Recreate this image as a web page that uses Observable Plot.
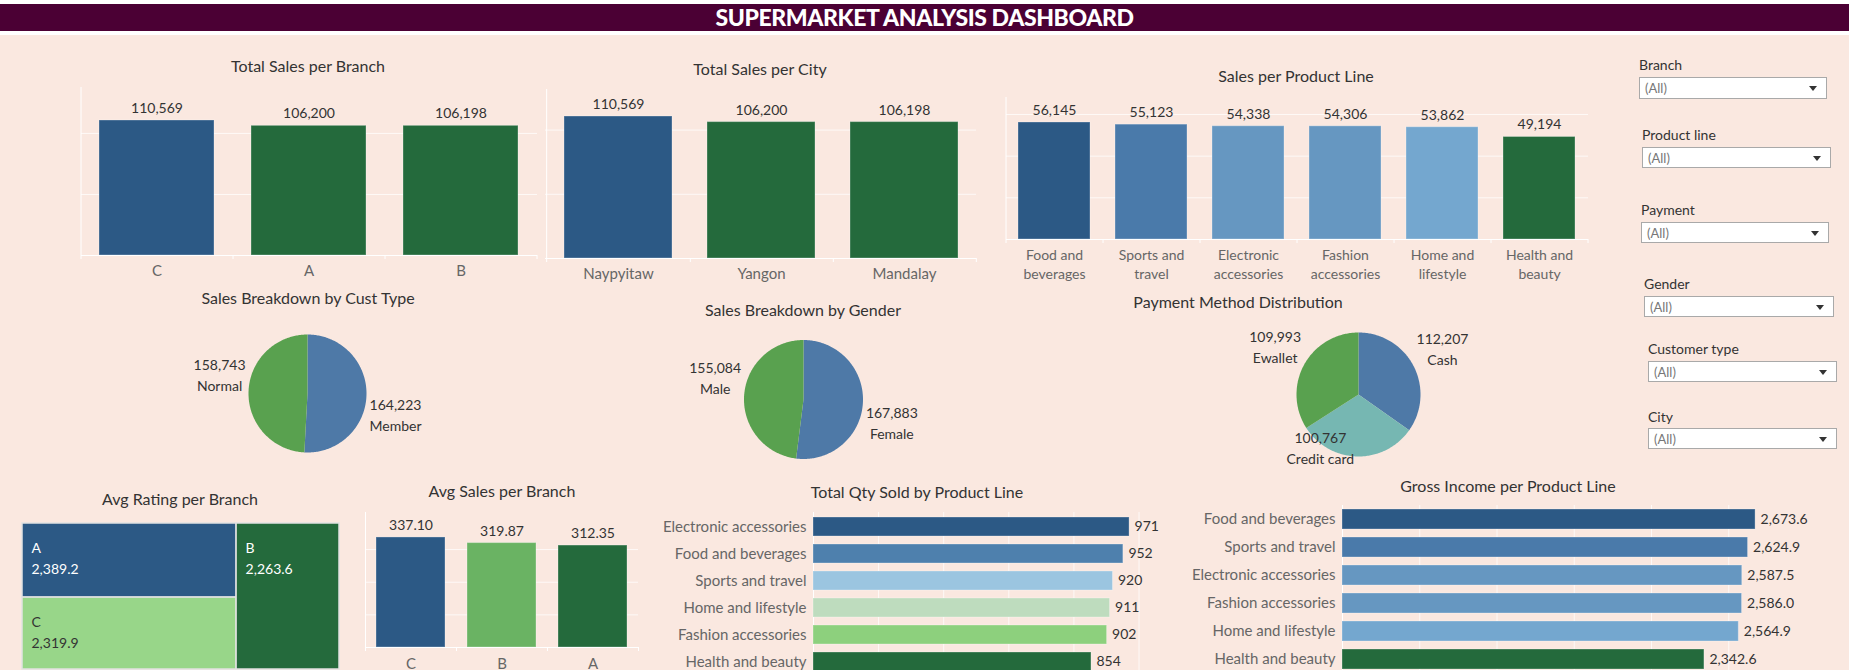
<!DOCTYPE html>
<html>
<head>
<meta charset="utf-8">
<script src="https://cdn.jsdelivr.net/npm/d3@7"></script>
<script src="https://cdn.jsdelivr.net/npm/@observablehq/plot@0.6"></script>
<style>
html, body { margin: 0; padding: 0; width: 1849px; height: 670px; overflow: hidden; background: #ffffff; font-family: Lato, "Open Sans", sans-serif; }
#bg { position: absolute; left: 0; top: 35px; width: 1849px; height: 635px; background: #fae8e0; }
#hdr { position: absolute; left: 0; top: 4px; width: 1849px; height: 27px; background: #4b0034; color: #ffffff; font-weight: 900; font-size: 23px; line-height: 27px; text-align: center; letter-spacing: -0.4px; }
.ttl { position: absolute; transform: translate(-50%, -50%); white-space: nowrap; color: #333333; line-height: 1; }
.box { position: absolute; }
.flabel { position: absolute; transform: translateY(-50%); font-size: 14px; color: #333333; line-height: 1; white-space: nowrap; }
.fbox { position: absolute; background: #ffffff; border: 1px solid #a9a9a9; box-sizing: border-box; font-size: 13px; color: #777777; }
.fbox span { position: absolute; left: 5px; top: 50%; transform: translateY(-50%); line-height: 1; }
.fbox i { position: absolute; right: 9px; top: 50%; margin-top: -2px; width: 0; height: 0; border-left: 4px solid transparent; border-right: 4px solid transparent; border-top: 5px solid #333333; }
</style>
</head>
<body>
<div id="bg"></div>
<div id="hdr">SUPERMARKET ANALYSIS DASHBOARD</div>
<script>
// ---------------- data ----------------
const branches = ["C", "A", "B"];
const branchSales = [110569, 106200, 106198];
const branchColors = ["#2c5985", "#246a3c", "#246a3c"];
const branchGrid = [50000, 100000];

const cities = ["Naypyitaw", "Yangon", "Mandalay"];
const citySales = [110569, 106200, 106198];
const cityColors = ["#2c5985", "#246a3c", "#246a3c"];
const cityGrid = [50000, 100000];

const productLines = ["Food and beverages", "Sports and travel", "Electronic accessories", "Fashion accessories", "Home and lifestyle", "Health and beauty"];
const productSales = [56145, 55123, 54338, 54306, 53862, 49194];
const productColors = ["#2c5985", "#4a7aaa", "#6697c1", "#6697c1", "#74a7cf", "#246a3c"];
const productGrid = [20000, 40000, 60000];

const custTypes = ["Member", "Normal"];
const custSales = [164223, 158743];
const genders = ["Female", "Male"];
const genderSales = [167883, 155084];
const twoColors = ["#4e79a7", "#59a14f"];
const payments = ["Cash", "Credit card", "Ewallet"];
const paymentSales = [112207, 100767, 109993];
const paymentColors = ["#4e79a7", "#76b7b2", "#59a14f"];

const ratingBranches = ["A", "C", "B"];
const ratingValues = [2389.2, 2319.9, 2263.6];
const ratingColors = ["#2c5985", "#98d689", "#246a3c"];
const ratingTextColors = ["#ffffff", "#333333", "#ffffff"];
const ratingGroups = [[0, 1], [2]];

const avgBranches = ["C", "B", "A"];
const avgSales = [337.10, 319.87, 312.35];
const avgColors = ["#2c5985", "#6ab363", "#246a3c"];
const avgGrid = [100, 200, 300];

const qtyLines = ["Electronic accessories", "Food and beverages", "Sports and travel", "Home and lifestyle", "Fashion accessories", "Health and beauty"];
const qtyValues = [971, 952, 920, 911, 902, 854];
const qtyColors = ["#2c5985", "#4e80ad", "#9bc5e0", "#bedcbe", "#8dd07d", "#246a3c"];
const qtyGrid = [200, 400, 600, 800, 1000];

const incomeLines = ["Food and beverages", "Sports and travel", "Electronic accessories", "Fashion accessories", "Home and lifestyle", "Health and beauty"];
const incomeValues = [2673.6, 2624.9, 2587.5, 2586.0, 2564.9, 2342.6];
const incomeColors = ["#2c5985", "#4a7aaa", "#6697c1", "#6697c1", "#74a7cf", "#246a3c"];
const incomeGrid = [500, 1000, 1500, 2000, 2500];

const filterNames = ["Branch", "Product line", "Payment", "Gender", "Customer type", "City"];
const filterValue = "(All)";

// ---------------- helpers ----------------
const FONT = "Lato, 'Open Sans', sans-serif";
const fmtInt = d3.format(",");
const fmt1 = d3.format(",.1f");
const fmt2 = d3.format(".2f");
const splitLast = s => s.replace(/ (\S+)$/, "\n$1");

function addSvg(svg, left, top) {
  const d = document.createElement("div");
  d.className = "box";
  d.style.left = left + "px";
  d.style.top = top + "px";
  d.appendChild(svg);
  document.body.appendChild(d);
}
function addTitle(text, cx, cy, size) {
  const d = document.createElement("div");
  d.className = "ttl";
  d.textContent = text;
  d.style.left = cx + "px";
  d.style.top = cy + "px";
  d.style.fontSize = (size || 16) + "px";
  document.body.appendChild(d);
}
function baseStyle(fs) {
  return {background: "transparent", overflow: "visible", fontFamily: FONT, fontSize: fs + "px", color: "#666666"};
}

function vbar(o) {
  const data = o.cats.map((c, i) => ({c, v: o.vals[i]}));
  const n = o.cats.length;
  const innerH = o.height - o.mT - o.mB;
  const step = (o.width - o.mL - o.mR) / n;
  const svg = Plot.plot({
    width: o.width, height: o.height,
    marginLeft: o.mL, marginRight: o.mR, marginTop: o.mT, marginBottom: o.mB,
    style: baseStyle(o.axisSize),
    x: {domain: o.cats, paddingInner: o.pad, paddingOuter: o.pad / 2},
    y: {domain: [0, o.max], axis: null},
    color: {domain: o.cats, range: o.colors},
    marks: [
      Plot.ruleY(o.grid, {stroke: "#ffffff", strokeOpacity: 0.75}),
      Plot.ruleY([0], {stroke: "#ffffff"}),
      Plot.ruleX([o.cats[0]], {dx: -step / 2, stroke: "#ffffff", insetBottom: -4}),
      Plot.ruleX(o.cats, {dx: step / 2, stroke: "#ffffff", insetTop: innerH, insetBottom: -4}),
      Plot.barY(data, {x: "c", y: "v", fill: "c", stroke: "#ffffff", strokeOpacity: 0.3}),
      Plot.text(data, {x: "c", y: "v", text: d => o.fmt(d.v), dy: -12, fontSize: o.labelSize, fill: "#333333"}),
      Plot.axisX({tickSize: 0, tickPadding: o.tickPad, tickFormat: o.wrap ? splitLast : (d => d), lineHeight: o.lh || 1, fontSize: o.axisSize, fill: "#666666", label: null})
    ]
  });
  addSvg(svg, o.left, o.top);
}

function hbar(o) {
  const data = o.cats.map((c, i) => ({c, v: o.vals[i]}));
  const svg = Plot.plot({
    width: o.width, height: o.height,
    marginLeft: o.mL, marginRight: o.mR, marginTop: o.mT, marginBottom: o.mB,
    style: baseStyle(o.axisSize),
    y: {domain: o.cats, paddingInner: o.pad, paddingOuter: o.pad / 2},
    x: {domain: [0, o.max], axis: null},
    color: {domain: o.cats, range: o.colors},
    marks: [
      Plot.ruleX(o.grid, {stroke: "#ffffff", strokeOpacity: 0.75}),
      Plot.ruleX([0], {stroke: "#ffffff"}),
      Plot.barX(data, {y: "c", x: "v", fill: "c", stroke: "#ffffff", strokeOpacity: 0.3}),
      Plot.text(data, {y: "c", x: "v", text: d => o.fmt(d.v), dx: 5, textAnchor: "start", fontSize: o.labelSize, fill: "#333333"}),
      Plot.axisY({tickSize: 0, tickPadding: o.tickPad, fontSize: o.axisSize, fill: "#666666", label: null})
    ]
  });
  addSvg(svg, o.left, o.top);
}

const measureCtx = document.createElement("canvas").getContext("2d");
function pie(o) {
  const data = o.cats.map((c, i) => ({c, v: o.vals[i]}));
  const arcs = d3.pie().sort(null).value(d => d.v)(data);
  const pts = [];
  for (const a of arcs) {
    const n = Math.max(2, Math.ceil((a.endAngle - a.startAngle) / (Math.PI / 180)));
    pts.push({c: a.data.c, x: 0, y: 0});
    for (let k = 0; k <= n; k++) {
      const t = a.startAngle + (a.endAngle - a.startAngle) * k / n;
      pts.push({c: a.data.c, x: Math.sin(t), y: Math.cos(t)});
    }
  }
  const fs = o.labelSize, lh = 1.5, gap = 3;
  measureCtx.font = fs + "px " + FONT;
  const half = (lh * fs + 0.72 * fs) / 2;
  const labels = arcs.map(a => {
    const m = (a.startAngle + a.endAngle) / 2;
    const lines = [fmtInt(a.data.v), a.data.c];
    const w = Math.max(...lines.map(s => measureCtx.measureText(s).width));
    const px = o.r * Math.sin(m), py = -o.r * Math.cos(m);
    const lx = px + (Math.sin(m) >= 0 ? 1 : -1) * (gap + w / 2);
    let ly = py + (Math.cos(m) > 0 ? -1 : 1) * (gap + half);
    if (o.maxY != null) ly = Math.min(ly, o.maxY - o.cy - half);
    return {text: lines.join("\n"), x: lx / o.r, y: -ly / o.r};
  });
  const W = o.W, H = o.H;
  const svg = Plot.plot({
    width: W, height: H, margin: 0,
    style: baseStyle(fs),
    x: {domain: [-W / 2 / o.r, W / 2 / o.r], axis: null},
    y: {domain: [-H / 2 / o.r, H / 2 / o.r], axis: null},
    color: {domain: o.cats, range: o.colors},
    marks: [
      Plot.line(pts, {x: "x", y: "y", z: "c", fill: "c", stroke: "none"}),
      Plot.text(labels, {x: "x", y: "y", text: "text", lineHeight: lh, fontSize: fs, fill: "#333333"})
    ]
  });
  addSvg(svg, o.cx - W / 2, o.cy - H / 2);
}

function treemap(o) {
  const items = o.cats.map((c, i) => ({c, v: o.vals[i], tc: o.textColors[i]}));
  const root = d3.hierarchy({children: o.groups.map(g => g.length > 1 ? {children: g.map(i => items[i])} : items[g[0]])})
    .sum(d => d.v || 0);
  d3.treemap().tile(d3.treemapSliceDice).size([1, 1]).round(false)(root);
  const leaves = root.leaves();
  const tcs = Array.from(new Set(o.textColors));
  const svg = Plot.plot({
    width: o.width, height: o.height, margin: 0,
    style: baseStyle(14),
    x: {domain: [0, 1], range: [0, o.width], axis: null},
    y: {domain: [0, 1], range: [0, o.height], axis: null},
    color: {domain: o.cats, range: o.colors},
    marks: [
      Plot.rect(leaves, {x1: d => d.x0, x2: d => d.x1, y1: d => d.y0, y2: d => d.y1, fill: d => d.data.c, stroke: "#e2e2e2", strokeWidth: 1.5}),
      ...tcs.map(col => Plot.text(leaves.filter(d => d.data.tc === col), {
        x: d => d.x0, y: d => d.y0, text: d => d.data.c + "\n" + o.fmt(d.data.v),
        dx: 9, dy: 15, textAnchor: "start", lineAnchor: "top", lineHeight: 1.5, fontSize: 14, fill: col
      }))
    ]
  });
  addSvg(svg, o.left, o.top);
}

// ---------------- charts ----------------
addTitle("Total Sales per Branch", 308, 66, 16);
vbar({cats: branches, vals: branchSales, colors: branchColors, grid: branchGrid, fmt: fmtInt,
  left: 60, top: 80, width: 500, height: 215, mL: 21, mR: 23, mT: 7, mB: 40, max: 137600,
  pad: 0.243, tickPad: 10, axisSize: 15, labelSize: 14});

addTitle("Total Sales per City", 760, 69, 16);
vbar({cats: cities, vals: citySales, colors: cityColors, grid: cityGrid, fmt: fmtInt,
  left: 530, top: 80, width: 460, height: 220, mL: 15, mR: 14, mT: 9, mB: 42, max: 131600,
  pad: 0.248, tickPad: 10, axisSize: 15, labelSize: 14});

addTitle("Sales per Product Line", 1296, 76, 16);
vbar({cats: productLines, vals: productSales, colors: productColors, grid: productGrid, fmt: fmtInt,
  left: 990, top: 90, width: 620, height: 199, mL: 16, mR: 22, mT: 7, mB: 50, max: 68140,
  pad: 0.253, tickPad: 7, axisSize: 14, labelSize: 14, wrap: true, lh: 1.36});

addTitle("Sales Breakdown by Cust Type", 308, 298, 16);
pie({cats: custTypes, vals: custSales, colors: twoColors, cx: 307, cy: 393, r: 59, W: 320, H: 180, labelSize: 14});

addTitle("Sales Breakdown by Gender", 803, 310, 16);
pie({cats: genders, vals: genderSales, colors: twoColors, cx: 803, cy: 399, r: 59.5, W: 320, H: 180, labelSize: 14});

addTitle("Payment Method Distribution", 1238, 302, 16);
pie({cats: payments, vals: paymentSales, colors: paymentColors, cx: 1358, cy: 394, r: 62, W: 320, H: 180, labelSize: 14, maxY: 462});

addTitle("Avg Rating per Branch", 180, 499, 16);
treemap({cats: ratingBranches, vals: ratingValues, colors: ratingColors, textColors: ratingTextColors, groups: ratingGroups,
  fmt: fmt1, left: 22, top: 523, width: 317, height: 146});

addTitle("Avg Sales per Branch", 502, 491, 16);
vbar({cats: avgBranches, vals: avgSales, colors: avgColors, grid: avgGrid, fmt: fmt2,
  left: 355, top: 505, width: 295, height: 165, mL: 10, mR: 12, mT: 7, mB: 23, max: 413.6,
  pad: 0.242, tickPad: 11, axisSize: 15, labelSize: 14});

addTitle("Total Qty Sold by Product Line", 917, 492, 16);
hbar({cats: qtyLines, vals: qtyValues, colors: qtyColors, grid: qtyGrid, fmt: fmtInt,
  left: 640, top: 505, width: 540, height: 172, mL: 173, mR: 41.5, mT: 7, mB: 0.6, max: 1000,
  pad: 0.29, tickPad: 7, axisSize: 15, labelSize: 14});

addTitle("Gross Income per Product Line", 1508, 486, 16);
hbar({cats: incomeLines, vals: incomeValues, colors: incomeColors, grid: incomeGrid, fmt: fmt1,
  left: 1180, top: 498, width: 669, height: 175, mL: 162, mR: 74.4, mT: 7, mB: 0, max: 2800,
  pad: 0.286, tickPad: 7, axisSize: 15, labelSize: 14});

// ---------------- filters ----------------
const filterLayout = [
  {x: 1639, ly: 65, by: 77, w: 188, h: 22},
  {x: 1642, ly: 135, by: 147, w: 189, h: 21},
  {x: 1641, ly: 210, by: 222, w: 188, h: 21},
  {x: 1644, ly: 284, by: 296, w: 190, h: 21},
  {x: 1648, ly: 349, by: 361, w: 189, h: 21},
  {x: 1648, ly: 417, by: 428, w: 189, h: 21}
];
filterNames.forEach((name, i) => {
  const L = filterLayout[i];
  const lab = document.createElement("div");
  lab.className = "flabel";
  lab.textContent = name;
  lab.style.left = L.x + "px";
  lab.style.top = L.ly + "px";
  document.body.appendChild(lab);
  const box = document.createElement("div");
  box.className = "fbox";
  box.style.left = L.x + "px";
  box.style.top = L.by + "px";
  box.style.width = L.w + "px";
  box.style.height = L.h + "px";
  const s = document.createElement("span");
  s.textContent = filterValue;
  box.appendChild(s);
  box.appendChild(document.createElement("i"));
  document.body.appendChild(box);
});
</script>
</body>
</html>
